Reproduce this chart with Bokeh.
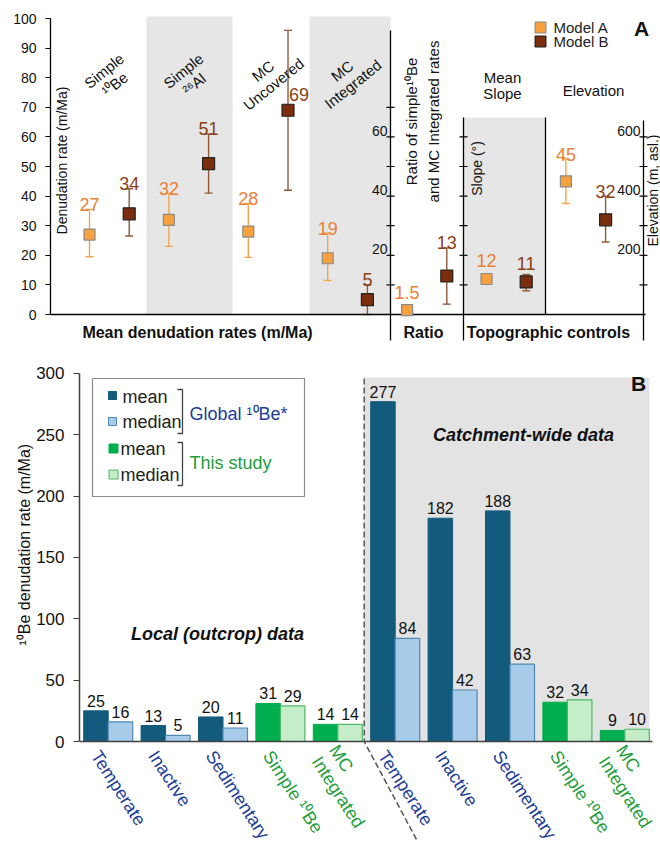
import math
from bokeh.plotting import figure
from bokeh.models import ColumnDataSource, Whisker, TeeHead, Range1d, SingleIntervalTicker, Title
from bokeh.core.properties import value
from bokeh.embed import file_html
from bokeh.resources import INLINE

FONT = value("Liberation Sans")

# ---------------- Panel A data ----------------
a_methods = ["Simple\n¹⁰Be", "Simple\n²⁶Al", "MC\nUncovered", "MC\nIntegrated"]
model_a = [27, 32, 28, 19, 1.5, 12, 45]
model_b = [34, 51, 69, 5, 13, 11, 32]
model_a_low = [19.5, 23, 19.3, 11.5, None, None, 37.5]
model_a_high = [35.5, 41, 37.5, 27.5, None, None, 52.5]
model_b_low = [26.5, 41, 42, 0, 3.5, 8, 24.5]
model_b_high = [42.5, 61, 96, 10, 22.5, 13.5, 40]
model_a_text = ["27", "32", "28", "19", "1.5", "12", "45"]
model_b_text = ["34", "51", "69", "5", "13", "11", "32"]
ratio_ticks = [10, 20, 30, 40, 50, 60, 70]
ratio_tick_labels = [20, 40, 60]
slope_ticks = [10, 20, 30, 40, 50, 60]
elev_ticks = [100, 200, 300, 400, 500, 600]
elev_tick_labels = [200, 400, 600]
ELEV_PER_UNIT = 10

# ---------------- Panel B data ----------------
b_categories = ["Temperate", "Inactive", "Sedimentary", "Simple ¹⁰Be", "MC\nIntegrated",
                "Temperate", "Inactive", "Sedimentary", "Simple ¹⁰Be", "MC\nIntegrated"]
b_source = ["global", "global", "global", "study", "study",
            "global", "global", "global", "study", "study"]
b_mean = [25, 13, 20, 31, 14, 277, 182, 188, 32, 9]
b_median = [16, 5, 11, 29, 14, 84, 42, 63, 34, 10]

# ---------------- styles ----------------
A_FILL, A_LINE, A_ERR, A_TXT = "#F7A13E", "#8A8A8A", "#F2A54A", "#EB8033"
B_FILL, B_LINE, B_ERR, B_TXT = "#7A2E0B", "#222222", "#8F5A3A", "#8A3F17"
BAND = "#E6E6E6"
G_MEAN, G_MED, G_MED_LINE = "#135B7D", "#A9CBEA", "#4F88B5"
S_MEAN, S_MED, S_MED_LINE = "#00AE4F", "#C5EDC8", "#4DB868"
BLUE_TXT, GREEN_TXT = "#203C9A", "#1E9D3B"

W = 660
HA, HB = 345, 500

# ================= PANEL A =================
A_X0, A_DX = 89.0, 39.7
A_Y0, A_DY = 314.0, 2.96
LEFT_A = 50


def ax(px):
    return (px - A_X0) / A_DX


def ay(py):
    return (A_Y0 - py) / A_DY


pA = figure(width=W, height=HA, x_range=Range1d(ax(LEFT_A), ax(W)),
            y_range=Range1d(ay(HA), ay(0)), x_axis_type=None,
            toolbar_location=None, output_backend="svg",
            min_border_left=LEFT_A, min_border_right=0, min_border_top=0, min_border_bottom=0)
pA.outline_line_color = None
pA.grid.visible = False
yA = pA.yaxis[0]
yA.bounds = (0, 100)
yA.ticker = SingleIntervalTicker(interval=10)
yA.minor_tick_line_color = None
yA.major_tick_in = 0
yA.major_tick_out = 5
yA.axis_line_width = 1.3
yA.axis_line_color = "black"
yA.major_tick_line_color = "black"
yA.major_label_text_font = "Liberation Sans"
yA.major_label_text_font_size = "14px"
yA.major_label_text_color = "#111111"
yA.major_label_standoff = 9

a_x = [2 * i for i in range(len(model_a))]
b_x = [2 * i + 1 for i in range(len(model_b))]

# shaded bands
pA.quad(left=[ax(146), ax(309), ax(463)], right=[ax(232), ax(390), ax(545)],
        bottom=[0, 0, 0], top=[100.7, 100.7, ay(117)],
        fill_color=BAND, line_color=None, level="image")

# axes lines
pA.segment(x0=[ax(LEFT_A), ax(390), ax(463), ax(545), ax(643)],
           y0=[0, ay(340), ay(340), 0, ay(340)],
           x1=[ax(645), ax(390), ax(463), ax(545), ax(643)],
           y1=[0, ay(30), ay(117), ay(117), ay(120)],
           line_color="black", line_width=1.3)

# ticks of inner axes
tick_x0, tick_x1, tick_y = [], [], []
for axis_px, ticks, scale in [(390, ratio_ticks, 1), (463, slope_ticks, 1), (643, elev_ticks, ELEV_PER_UNIT)]:
    for t in ticks:
        tick_x0.append(ax(axis_px - 4))
        tick_x1.append(ax(axis_px + 4))
        tick_y.append(t / scale)
pA.segment(x0=tick_x0, y0=tick_y, x1=tick_x1, y1=tick_y, line_color="black", line_width=1.2)

pA.text(x=[ax(387)] * len(ratio_tick_labels), y=ratio_tick_labels,
        text=[str(t) for t in ratio_tick_labels], text_align="right", text_baseline="middle",
        y_offset=-6, text_font=FONT, text_font_size="14px", text_color="#111111")
pA.text(x=[ax(640)] * len(elev_tick_labels), y=[t / ELEV_PER_UNIT for t in elev_tick_labels],
        text=[str(t) for t in elev_tick_labels], text_align="right", text_baseline="middle",
        y_offset=-6, text_font=FONT, text_font_size="14px", text_color="#111111")


# error bars
def err_source(xs, lo, hi):
    d = dict(x=[], lo=[], hi=[])
    for x, l, h in zip(xs, lo, hi):
        if l is not None and h is not None:
            d["x"].append(x)
            d["lo"].append(l)
            d["hi"].append(h)
    return ColumnDataSource(d)


for xs, lo, hi, col in [(a_x, model_a_low, model_a_high, A_ERR), (b_x, model_b_low, model_b_high, B_ERR)]:
    w = Whisker(source=err_source(xs, lo, hi), base="x", lower="lo", upper="hi",
                line_color=col, line_width=1.4, level="underlay",
                upper_head=TeeHead(size=8, line_color=col, line_width=1.4),
                lower_head=TeeHead(size=8, line_color=col, line_width=1.4))
    pA.add_layout(w)

pA.scatter(x=a_x, y=model_a, marker="square", size=11, fill_color=A_FILL, line_color=A_LINE, line_width=1.2)
pA.scatter(x=b_x, y=model_b, marker="square", size=12, fill_color=B_FILL, line_color=B_LINE, line_width=1.2)


# value labels: above the whisker (5 px) and at least 18 px above the marker;
# beside the marker when the whisker runs to the top of the axis
def label_source(xs, vals, hi, texts):
    d = dict(x=[], y=[], t=[], xo=[], yo=[])
    for x, v, h, t in zip(xs, vals, hi, texts):
        d["x"].append(x)
        d["t"].append(t)
        if h is not None and h > 90:
            d["y"].append(v); d["xo"].append(11); d["yo"].append(-16)
        else:
            top = v if h is None else h
            d["y"].append(max(top + 5 / A_DY, v + 18 / A_DY)); d["xo"].append(0); d["yo"].append(0)
    return ColumnDataSource(d)


for xs, vals, hi, texts, col in [(a_x, model_a, model_a_high, model_a_text, A_TXT),
                                 (b_x, model_b, model_b_high, model_b_text, B_TXT)]:
    pA.text(x="x", y="y", text="t", x_offset="xo", y_offset="yo", source=label_source(xs, vals, hi, texts),
            text_align="center", text_baseline="alphabetic", text_font=FONT,
            text_font_size="18px", text_color=col)

# method labels (rotated)
mids = [(a_x[i] + b_x[i]) / 2 for i in range(len(a_methods))]
pA.text(x=mids, y=[ay(77)] * len(mids), text=a_methods, angle=39, angle_units="deg",
        text_align="center", text_baseline="middle", text_font=FONT, text_font_size="15px",
        text_line_height=1.0, text_color="#111111")

# other texts
pA.text(x=[ax(422)], y=[ay(121)], text=["Ratio of simple¹⁰Be\nand MC Integrated rates"], angle=90,
        angle_units="deg", text_align="center", text_baseline="middle", text_font=FONT,
        text_font_size="15px", text_line_height=1.3, text_color="#111111")
pA.text(x=[ax(476)], y=[ay(168)], text=["Slope (°)"], angle=90, angle_units="deg",
        text_align="center", text_baseline="middle", text_font=FONT, text_font_size="14px", text_color="#111111")
pA.text(x=[ax(652)], y=[ay(190)], text=["Elevation (m, asl.)"], angle=90, angle_units="deg",
        text_align="center", text_baseline="middle", text_font=FONT, text_font_size="14px", text_color="#111111")
pA.text(x=[ax(61)], y=[ay(160)], text=["Denudation rate (m/Ma)"], angle=90, angle_units="deg",
        text_align="center", text_baseline="middle", text_font=FONT, text_font_size="14px", text_color="#111111")
pA.text(x=[ax(502)], y=[ay(85)], text=["Mean\nSlope"], text_align="center", text_baseline="middle",
        text_font=FONT, text_font_size="15px", text_line_height=0.95, text_color="#111111")
pA.text(x=[ax(593)], y=[ay(90)], text=["Elevation"], text_align="center", text_baseline="middle",
        text_font=FONT, text_font_size="15px", text_color="#111111")
pA.text(x=[ax(197), ax(423), ax(548)], y=[ay(332)] * 3,
        text=["Mean denudation rates (m/Ma)", "Ratio", "Topographic controls"],
        text_align="center", text_baseline="middle", text_font=FONT, text_font_size="16px",
        text_font_style="bold", text_color="#111111")

# legend A
pA.scatter(x=[ax(540)], y=[ay(27)], marker="square", size=11, fill_color=A_FILL, line_color=A_LINE)
pA.scatter(x=[ax(540)], y=[ay(41)], marker="square", size=11, fill_color=B_FILL, line_color=B_LINE)
pA.text(x=[ax(553), ax(553)], y=[ay(27), ay(41)], text=["Model A", "Model B"], text_align="left",
        text_baseline="middle", text_font=FONT, text_font_size="15px", text_color="#222222")
pA.text(x=[ax(641)], y=[ay(28)], text=["A"], text_align="center", text_baseline="middle",
        text_font=FONT, text_font_size="21px", text_font_style="bold", text_color="#111111")

# ================= PANEL B =================
B_X0, B_DX = 79.0, 57.4
B_AX_Y, B_DY = 741.0, 1.2267


def bx(px):
    return (px - B_X0) / B_DX


def by(pyg):
    return (B_AX_Y - pyg) / B_DY


pB = figure(width=W, height=HB, x_range=Range1d(0, bx(W)), y_range=Range1d(by(HA + HB), by(HA)),
            x_axis_type=None, toolbar_location=None, output_backend="svg",
            min_border_left=int(B_X0), min_border_right=0, min_border_top=0, min_border_bottom=0)
pB.outline_line_color = None
pB.grid.visible = False
yB = pB.yaxis[0]
yB.bounds = (0, 300)
yB.ticker = SingleIntervalTicker(interval=50)
yB.minor_tick_line_color = None
yB.major_tick_in = 0
yB.major_tick_out = 6
yB.axis_line_width = 1.5
yB.axis_line_color = "#404040"
yB.major_tick_line_color = "#404040"
yB.major_label_text_font = "Liberation Sans"
yB.major_label_text_font_size = "17px"
yB.major_label_text_color = "#111111"
yB.major_label_standoff = 9

# vertical title, its lower end placed (offset px above the panel bottom) so it is centred near y = 150
pB.add_layout(Title(text="¹⁰Be denudation rate (m/Ma)", align="left", offset=200, standoff=2,
                    text_font="Liberation Sans", text_font_size="16px", text_font_style="normal",
                    text_color="#111111"), "left")

n = len(b_mean)
centers = [i + 0.5 for i in range(n)]
BW = 0.427
mean_x = [c - BW / 2 for c in centers]
med_x = [c + BW / 2 for c in centers]
split = 4.96

pB.quad(left=[split], right=[bx(649)], bottom=[0], top=[by(377)], fill_color="#E3E3E3",
        line_color=None, level="image")

mean_fill = [G_MEAN if s == "global" else S_MEAN for s in b_source]
med_fill = [G_MED if s == "global" else S_MED for s in b_source]
med_line = [G_MED_LINE if s == "global" else S_MED_LINE for s in b_source]
pB.vbar(x=mean_x, top=b_mean, bottom=0, width=BW, fill_color=mean_fill, line_color=mean_fill)
pB.vbar(x=med_x, top=b_median, bottom=0, width=BW, fill_color=med_fill, line_color=med_line, line_width=1.2)

pB.segment(x0=[0], y0=[0], x1=[bx(652)], y1=[0], line_color="#404040", line_width=1.5)
pB.line(x=[split, split, bx(416)], y=[by(378), 0, by(839)], line_color="#555555",
        line_width=1.5, line_dash="6 3")

pB.text(x=mean_x, y=b_mean, text=[str(v) for v in b_mean], text_align="center",
        text_baseline="alphabetic", y_offset=-10, text_font=FONT, text_font_size="16px", text_color="#111111")
pB.text(x=med_x, y=b_median, text=[str(v) for v in b_median], text_align="center",
        text_baseline="alphabetic", y_offset=-10, text_font=FONT, text_font_size="16px", text_color="#111111")

cat_col = [BLUE_TXT if s == "global" else GREEN_TXT for s in b_source]
pB.text(x=centers, y=[0] * n, text=b_categories, x_offset=-13, y_offset=11, angle=-57, angle_units="deg",
        text_align="left", text_baseline="middle", text_font=FONT, text_font_size="18px",
        text_line_height=1.05, text_color=cat_col)

pB.text(x=[bx(217)], y=[by(633)], text=["Local (outcrop) data"], text_align="center", text_baseline="middle",
        text_font=FONT, text_font_size="18px", text_font_style="bold italic", text_color="#111111")
pB.text(x=[bx(523)], y=[by(434)], text=["Catchment-wide data"], text_align="center", text_baseline="middle",
        text_font=FONT, text_font_size="18px", text_font_style="bold italic", text_color="#111111")
pB.text(x=[bx(638)], y=[by(383)], text=["B"], text_align="center", text_baseline="middle",
        text_font=FONT, text_font_size="21px", text_font_style="bold", text_color="#111111")

# legend B
pB.quad(left=[bx(92)], right=[bx(304)], top=[by(378)], bottom=[by(496)], fill_color="white",
        line_color="#8C8C8C", line_width=1.2)
pB.scatter(x=[bx(112), bx(112), bx(113), bx(113)], y=[by(395), by(421), by(448), by(474)],
           marker="square", size=[8, 8, 9, 9], fill_color=[G_MEAN, G_MED, S_MEAN, S_MED],
           line_color=[G_MEAN, G_MED_LINE, S_MEAN, S_MED_LINE])
pB.text(x=[bx(122), bx(122), bx(120), bx(120)], y=[by(396), by(421), by(448), by(474)],
        text=["mean", "median", "mean", "median"], text_align="left", text_baseline="middle",
        text_font=FONT, text_font_size="18px", text_color="#222222")
pB.multi_line(xs=[[bx(177), bx(182), bx(182), bx(177)], [bx(177), bx(182), bx(182), bx(177)]],
              ys=[[by(389), by(389), by(433), by(433)], [by(442), by(442), by(485), by(485)]],
              line_color="#444444", line_width=1.3)
pB.text(x=[bx(189), bx(189)], y=[by(413), by(462)], text=["Global ¹⁰Be*", "This study"],
        text_align="left", text_baseline="middle", text_font=FONT, text_font_size="18px",
        text_color=[BLUE_TXT, GREEN_TXT])

open("out.html", "w").write(file_html([pA, pB], INLINE))
